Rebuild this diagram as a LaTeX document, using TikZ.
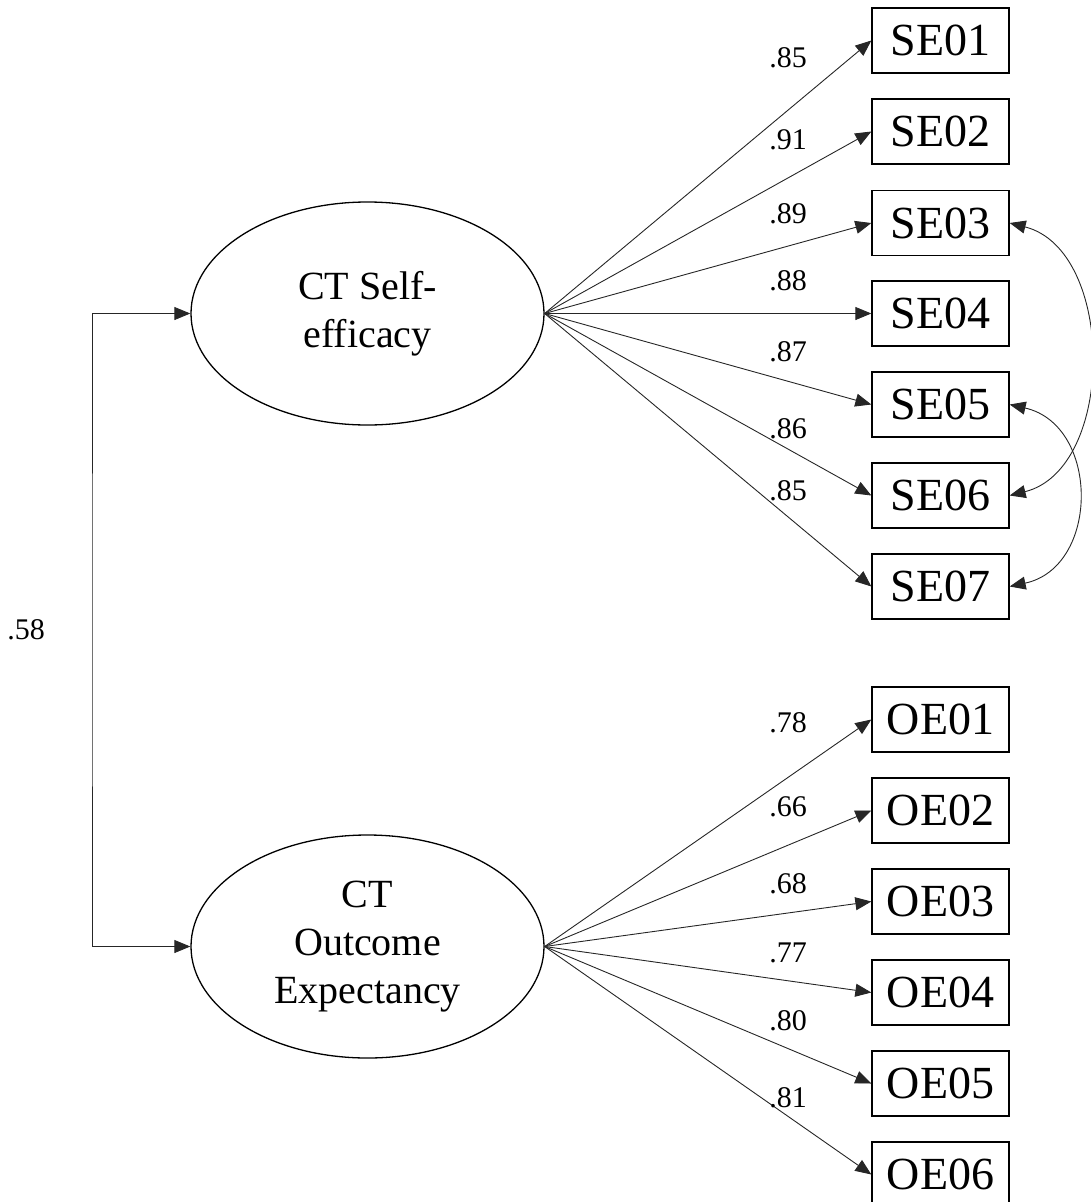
\documentclass[tikz,border=0pt]{standalone}
\usepackage{fontspec}
\setmainfont{Liberation Serif}
\usetikzlibrary{arrows.meta,shapes.geometric}
\begin{document}
\begin{tikzpicture}[x=1pt,y=-1pt,
  ind/.style={draw,line width=1.3pt,minimum width=137pt,minimum height=65pt,inner sep=0pt,font=\fontsize{46}{50}\selectfont},
  lat/.style={draw,ellipse,line width=1.3pt,minimum width=353pt,minimum height=223pt,inner sep=0pt,align=center,font=\fontsize{40}{48}\selectfont},
  arr/.style={line width=0.9pt,draw=black!85,-{Triangle[length=16pt,width=13pt]}},
  dbl/.style={line width=0.9pt,draw=black!85,{Triangle[length=16pt,width=13pt]}-{Triangle[length=16pt,width=13pt]}},
  lab/.style={inner sep=0pt,font=\fontsize{30}{34}\selectfont}]
\useasboundingbox (0,0) rectangle (1090,1202);
% latent variables
\node[lat] (SE) at (367.5,313.5) {CT Self-\\efficacy};
\node[lat] (OE) at (367.5,946.5) {CT\\Outcome\\Expectancy};
% indicators
\foreach \i/\y in {1/40.5,2/131.5,3/223,4/313.5,5/404.5,6/495.5,7/586.5}{
  \node[ind] (SE0\i) at (940.5,\y) {SE0\i};
}
\foreach \i/\y in {1/719.5,2/810.5,3/901.5,4/992.5,5/1083.5,6/1174.5}{
  \node[ind] (OE0\i) at (940.5,\y) {OE0\i};
}
% loadings
\foreach \i in {1,...,7}{ \draw[arr] (SE.east) -- (SE0\i.west); }
\foreach \i in {1,...,6}{ \draw[arr] (OE.east) -- (OE0\i.west); }
% loading labels
\node[lab] (l1) at (788,58) {.85};
\node[lab] (l2) at (788,140) {.91};
\node[lab] (l3) at (788,214) {.89};
\node[lab] (l4) at (788,281) {.88};
\node[lab] (l5) at (788,352) {.87};
\node[lab] (l6) at (788,429) {.86};
\node[lab] (l7) at (788,491) {.85};
\node[lab] (m1) at (788,723) {.78};
\node[lab] (m2) at (788,807) {.66};
\node[lab] (m3) at (788,884) {.68};
\node[lab] (m4) at (788,953) {.77};
\node[lab] (m5) at (788,1021) {.80};
\node[lab] (m6) at (788,1098) {.81};
% factor covariance
\coordinate (cv) at (92,630);
\draw[dbl] (SE.west) -| (cv) |- (OE.west);
\node[lab] (c58) at (26,630) {.58};
% error covariances
\draw[dbl] (SE03.east) .. controls (1116,250) and (1116,469) .. (SE06.east);
\draw[dbl] (SE05.east) .. controls (1100,425) and (1100,567) .. (SE07.east);
\end{tikzpicture}
\end{document}
